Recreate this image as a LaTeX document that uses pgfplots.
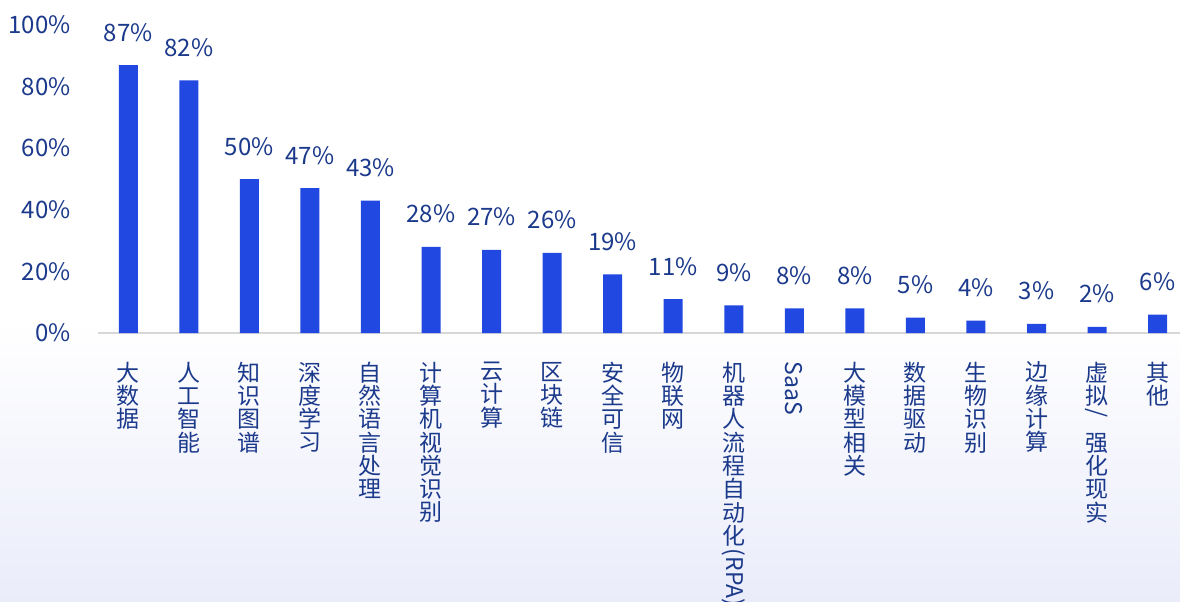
\documentclass[border=0pt]{standalone}
\usepackage{pgfplots}
\pgfplotsset{compat=1.18}
\usepackage{fontspec}
\setmainfont{Noto Sans CJK SC}
\usepackage{graphicx}
\definecolor{barblue}{RGB}{33,72,224}
\definecolor{txtblue}{RGB}{28,58,140}
\newcommand\R[1]{\raisebox{0.82em}{\rotatebox{-90}{#1}}}
\begin{document}
\begin{tikzpicture}[x=1pt,y=1pt]
\useasboundingbox (0,0) rectangle (590,300.5);
\fill[white] (0,0) rectangle (590,300.5);
\shade[top color=white,bottom color={rgb,255:red,234;green,236;blue,250}] (0,0) rectangle (590,140);
\begin{axis}[
  at={(49pt,134pt)}, anchor=south west,
  scale only axis, width=541pt, height=154pt,
  xmin=-0.5, xmax=17.37, ymin=0, ymax=100,
  separate axis lines,
  axis x line*=bottom, axis y line*=left,
  y axis line style={draw=none},
  x axis line style={draw={rgb,255:red,215;green,215;blue,215}, line width=1pt, -},
  tick style={draw=none},
  ytick={0,20,40,60,80,100},
  yticklabel={\pgfmathprintnumber{\tick}\%},
  /pgf/number format/assume math mode=true,
  yticklabel style={anchor=east, inner sep=0pt, xshift=-13.5pt, text=txtblue, font=\fontsize{12}{14}\selectfont},
  xtick={0,...,17},
  xticklabels={{大\\数\\据}, {人\\工\\智\\能}, {知\\识\\图\\谱}, {深\\度\\学\\习}, {自\\然\\语\\言\\处\\理}, {计\\算\\机\\视\\觉\\识\\别}, {云\\计\\算}, {区\\块\\链}, {安\\全\\可\\信}, {物\\联\\网}, {机\\器\\人\\流\\程\\自\\动\\化\\\R{(RPA)}}, {\R{SaaS}}, {大\\模\\型\\相\\关}, {数\\据\\驱\\动}, {生\\物\\识\\别}, {边\\缘\\计\\算}, {虚\\拟\\\R{/}\\强\\化\\现\\实}, {其\\他}},
  xticklabel style={anchor=north, align=center, inner sep=0pt, yshift=-10pt, text=txtblue, font=\fontsize{11.5}{11.65}\selectfont},
  ybar, bar width=9.5pt,
  nodes near coords={\pgfmathprintnumber{\pgfplotspointmeta}\%},
  nodes near coords style={anchor=base, yshift=12pt, text=txtblue, font=\fontsize{12}{14}\selectfont},
]
\addplot[fill=barblue, draw=none] coordinates {
(0,87) (1,82) (2,50) (3,47) (4,43) (5,28) (6,27) (7,26) (8,19)
(9,11) (10,9) (11,8) (12,8) (13,5) (14,4) (15,3) (16,2) (17,6)};
\end{axis}
\end{tikzpicture}
\end{document}
